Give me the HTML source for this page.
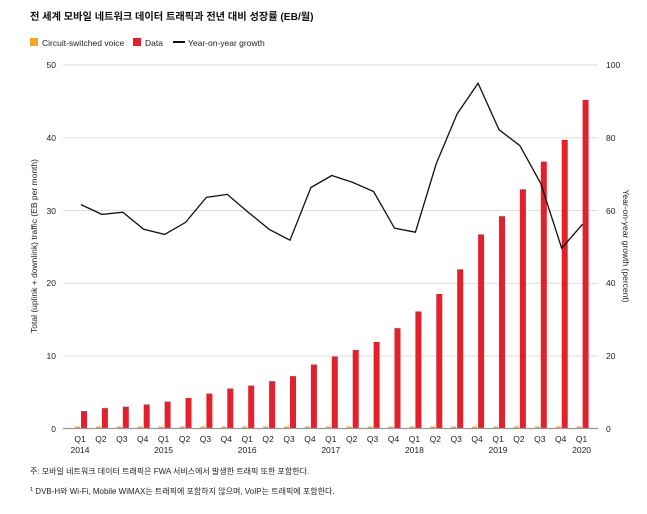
<!DOCTYPE html>
<html><head><meta charset="utf-8"><style>
body{margin:0;background:#fff;width:647px;height:509px;overflow:hidden;font-family:"Liberation Sans","Noto Sans CJK KR",sans-serif}
svg text{font-family:"Liberation Sans","Noto Sans CJK KR",sans-serif}
</style></head><body>
<svg width="647" height="509" xmlns="http://www.w3.org/2000/svg">
<text x="30" y="20" font-size="10.2" font-weight="bold" fill="#111">전 세계 모바일 네트워크 데이터 트래픽과 전년 대비 성장률 (EB/월)</text>
<rect x="30" y="38" width="8" height="8" fill="#f5a623"/>
<text x="42" y="46" font-size="8.5" fill="#222">Circuit-switched voice</text>
<rect x="133" y="38" width="8" height="8" fill="#e3202b"/>
<text x="145" y="46" font-size="8.5" fill="#222">Data</text>
<rect x="173" y="41" width="12" height="2" fill="#111"/>
<text x="188" y="46" font-size="8.5" fill="#222">Year-on-year growth</text>
<g id="grid" stroke="#ddd" stroke-width="1">
<line x1="63" x2="598" y1="65" y2="65"/><line x1="63" x2="598" y1="137.7" y2="137.7"/><line x1="63" x2="598" y1="210.5" y2="210.5"/><line x1="63" x2="598" y1="283.2" y2="283.2"/><line x1="63" x2="598" y1="356" y2="356"/>
</g>
<g font-size="8.5" fill="#222" text-anchor="end">
<text x="56" y="68">50</text><text x="56" y="141">40</text><text x="56" y="214">30</text><text x="56" y="286">20</text><text x="56" y="359">10</text><text x="56" y="432">0</text>
</g>
<g font-size="8.5" fill="#222">
<text x="606" y="68">100</text><text x="606" y="141">80</text><text x="606" y="214">60</text><text x="606" y="286">40</text><text x="606" y="359">20</text><text x="606" y="432">0</text>
</g>
<text transform="translate(37,246) rotate(-90)" font-size="8.5" fill="#222" text-anchor="middle">Total (uplink + downlink) traffic (EB per month)</text>
<text transform="translate(623,246) rotate(90)" font-size="8.5" fill="#222" text-anchor="middle">Year-on-year growth (percent)</text>
<g id="bars"></g>
<line x1="63" x2="598" y1="428.5" y2="428.5" stroke="#999" stroke-width="1.2"/>
<polyline id="gl" fill="none" stroke="#111" stroke-width="1.3"/>
<g id="xl" font-size="8.5" fill="#222" text-anchor="middle"></g>
<text x="30" y="474" font-size="8" fill="#222">주: 모바일 네트워크 데이터 트래픽은 FWA 서비스에서 발생한 트래픽 또한 포함한다.</text>
<text x="30" y="494" font-size="8" fill="#222"><tspan font-size="5.5" dy="-3">1</tspan><tspan dy="3"> DVB-H와 Wi-Fi, Mobile WiMAX는 트래픽에 포함하지 않으며, VoIP는 트래픽에 포함한다.</tspan></text>
</svg>
<script>
var d=[2.4,2.8,3.0,3.3,3.7,4.2,4.8,5.5,5.9,6.5,7.2,8.8,9.9,10.8,11.9,13.8,16.1,18.5,21.9,26.7,29.2,32.9,36.7,39.7,45.2];
var g=[61.6,58.9,59.5,54.8,53.4,56.7,63.6,64.4,59.5,54.8,51.8,66.3,69.6,67.7,65.2,55.1,54,72.9,86.6,95,82.2,77.8,67.4,49.6,56.2];
var ns="http://www.w3.org/2000/svg",b=document.getElementById('bars'),xl=document.getElementById('xl'),pts=[];
var yrs={0:'2014',4:'2015',8:'2016',12:'2017',16:'2018',20:'2019',24:'2020'};
for(var i=0;i<25;i++){var x=81+i*20.9;
var r=document.createElementNS(ns,'rect');r.setAttribute('x',x-6);r.setAttribute('y',426.5);r.setAttribute('width',5);r.setAttribute('height',2);r.setAttribute('fill','#f5a623');b.appendChild(r);
var h=d[i]*7.27;r=document.createElementNS(ns,'rect');r.setAttribute('x',x);r.setAttribute('y',428.5-h);r.setAttribute('width',6);r.setAttribute('height',h);r.setAttribute('fill','#e3202b');b.appendChild(r);
pts.push(x.toFixed(1)+','+(428.5-g[i]*3.635).toFixed(1));
var t=document.createElementNS(ns,'text');t.setAttribute('x',x-1);t.setAttribute('y',442);t.textContent='Q'+(i%4+1);xl.appendChild(t);
if(yrs[i]){t=document.createElementNS(ns,'text');t.setAttribute('x',x-1);t.setAttribute('y',453);t.textContent=yrs[i];xl.appendChild(t);}
}
document.getElementById('gl').setAttribute('points',pts.join(' '));
</script>
</body></html>
